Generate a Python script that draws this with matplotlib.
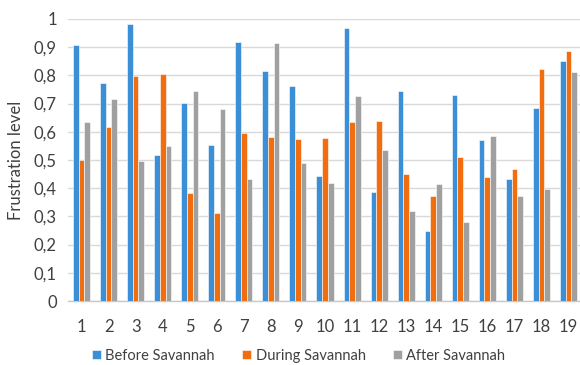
import numpy as np
import matplotlib
matplotlib.use('Agg')
import matplotlib.pyplot as plt

# ── Data ──────────────────────────────────────────────────────────────────
participants = [str(i) for i in range(1, 20)]
before = [0.907, 0.772, 0.981, 0.519, 0.703, 0.554, 0.917, 0.817, 0.762, 0.442,
          0.967, 0.386, 0.746, 0.247, 0.729, 0.570, 0.434, 0.683, 0.850]
during = [0.500, 0.618, 0.799, 0.805, 0.383, 0.312, 0.596, 0.581, 0.575, 0.579,
          0.635, 0.637, 0.452, 0.372, 0.510, 0.440, 0.469, 0.824, 0.888]
after = [0.635, 0.715, 0.496, 0.549, 0.746, 0.680, 0.433, 0.914, 0.489, 0.418,
         0.727, 0.534, 0.320, 0.414, 0.279, 0.586, 0.373, 0.396, 0.813]
series_names = ["Before Savannah", "During Savannah", "After Savannah"]
y_ticks = [0, 0.1, 0.2, 0.3, 0.4, 0.5, 0.6, 0.7, 0.8, 0.9, 1.0]
y_ticklabels = ["0", "0,1", "0,2", "0,3", "0,4", "0,5", "0,6", "0,7", "0,8", "0,9", "1"]

colors = ['#3A8FD6', '#F06E10', '#A0A0A0']
text_col = '#404040'

plt.rcParams['font.family'] = ['Lato', 'DejaVu Sans']

fig = plt.figure(figsize=(5.8, 3.65), dpi=100)
ax = fig.add_axes([68 / 580, 64 / 365, 514 / 580, 282 / 365])

x = np.arange(1, len(participants) + 1)
w = 0.21
for i, (vals, name) in enumerate(zip([before, during, after], series_names)):
    ax.bar(x + (i - 1) * w, vals, width=w, color=colors[i], label=name,
           edgecolor='white', linewidth=0.4, zorder=3)

ax.set_xlim(0.5, 19.5)
ax.set_ylim(0, 1)
ax.set_xticks(x)
ax.set_xticklabels(participants, fontsize=12, color=text_col)
ax.set_yticks(y_ticks)
ax.set_yticklabels(y_ticklabels, fontsize=12, color=text_col)
ax.tick_params(axis='both', length=0)
ax.tick_params(axis='x', pad=13)
ax.tick_params(axis='y', pad=8)
ax.grid(axis='y', color='#d9d9d9', linewidth=1, zorder=0)
for s in ['top', 'right', 'left']:
    ax.spines[s].set_visible(False)
ax.spines['bottom'].set_color('#c8c8c8')
ax.spines['bottom'].set_linewidth(1)

ax.set_ylabel("Frustration level", fontsize=12, color=text_col, labelpad=7)

fig.legend(loc='lower center', bbox_to_anchor=(0.515, -0.03), ncol=3,
           frameon=False, fontsize=10.5, handlelength=0.6, handleheight=0.6,
           handletextpad=0.3, columnspacing=1.9, labelcolor=text_col)

fig.savefig("out.png", dpi=100)
